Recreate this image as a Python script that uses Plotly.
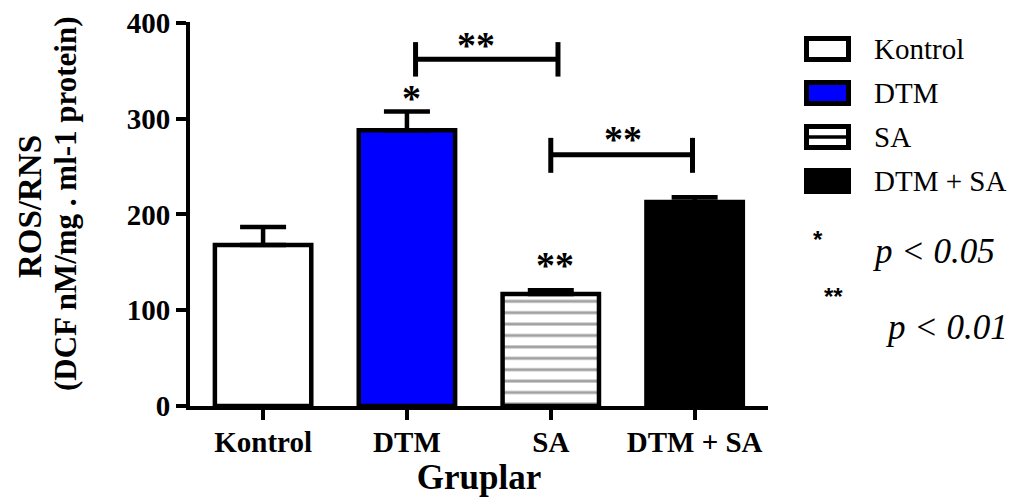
import plotly.graph_objects as go

# ---------------- data ----------------
groups = ["Kontrol", "DTM", "SA", "DTM + SA"]
means = [168, 288, 117, 213]
sem = [19, 19.5, 4, 5]
fill_colors = ["white", "#0000FF", "white", "black"]
patterns = ["", "", "-", ""]
y_ticks = [0, 100, 200, 300, 400]

# significance brackets (category-index positions / data values)
bracket_x0 = [1.06, 2.0]
bracket_x1 = [2.05, 2.985]
bracket_y = [362, 262.5]
bracket_lo = [344, 243.5]
bracket_hi = [380, 280]
bracket_text = ["**", "**"]
bracket_text_x = [1.48, 2.50]
bracket_text_y = [381.5, 283]

# asterisks above bars
star_x = [1.03, 2.03]
star_y = [326, 151]
star_text = ["*", "**"]

# legend notes
note_stars = ["*", "**"]
note_texts = ["p < 0.05", "p < 0.01"]

# ---------------- layout geometry ----------------
OFF = 8                      # page body margin of the html page
W, H = 1016 - OFF, 502 - OFF
L, T = 190 - OFF, 22 - OFF
PR, PB = 768 - OFF, 406 - OFF   # plot right / bottom in figure px
R, B = W - PR, H - PB
PW, PH = PR - L, PB - T


def pxx(p):
    """page pixel x -> paper x"""
    return (p - OFF - L) / PW


def pxy(p):
    """page pixel y -> paper y"""
    return (PB - (p - OFF)) / PH


SERIF = "Liberation Serif"

fig = go.Figure()
fig.add_trace(go.Bar(
    x=groups, y=means,
    marker=dict(
        color=fill_colors,
        line=dict(color="black", width=4.5),
        pattern=dict(shape=patterns, fgcolor="black", bgcolor="white",
                     size=11.4, solidity=0.26),
    ),
    error_y=dict(type="data", array=sem, arrayminus=[0] * len(sem),
                 symmetric=False, color="black", thickness=4.5, width=23),
    showlegend=False,
))

shapes = []
annotations = []

# significance brackets
for x0, x1, y, lo, hi in zip(bracket_x0, bracket_x1, bracket_y, bracket_lo, bracket_hi):
    shapes.append(dict(type="line", xref="x", yref="y", x0=x0, x1=x1, y0=y, y1=y,
                       line=dict(color="black", width=5)))
    for xe in (x0, x1):
        shapes.append(dict(type="line", xref="x", yref="y", x0=xe, x1=xe, y0=lo, y1=hi,
                           line=dict(color="black", width=5)))
for t, x, y in zip(bracket_text, bracket_text_x, bracket_text_y):
    annotations.append(dict(text=t, x=x, y=y, xref="x", yref="y", showarrow=False,
                            xanchor="center", yanchor="middle", yshift=-4,
                            font=dict(family=SERIF, size=38, color="black", weight="bold")))
for t, x, y in zip(star_text, star_x, star_y):
    annotations.append(dict(text=t, x=x, y=y, xref="x", yref="y", showarrow=False,
                            xanchor="center", yanchor="middle", yshift=-4,
                            font=dict(family=SERIF, size=38, color="black", weight="bold")))

# y-axis title (two lines)
annotations.append(dict(text="<b>ROS/RNS</b>", x=pxx(30), y=pxy(207), xref="paper", yref="paper",
                        showarrow=False, textangle=-90, xanchor="center", yanchor="middle",
                        borderpad=0, font=dict(family=SERIF, size=33, color="black")))
annotations.append(dict(text="<b>(DCF nM/mg . ml-1 protein)</b>", x=pxx(65), y=pxy(204),
                        xref="paper", yref="paper",
                        showarrow=False, textangle=-90, xanchor="center", yanchor="middle",
                        font=dict(family=SERIF, size=31, color="black")))

# custom legend (boxes + labels)
leg_top = [36, 80, 124, 168]
box_h = 26
bx0, bx1 = 804, 851
lw = 5
for i, name in enumerate(groups):
    top = leg_top[i]
    shapes.append(dict(type="rect", xref="paper", yref="paper",
                       x0=pxx(bx0 + lw / 2), x1=pxx(bx1 - lw / 2),
                       y0=pxy(top + lw / 2), y1=pxy(top + box_h - lw / 2),
                       fillcolor=fill_colors[i], line=dict(color="black", width=lw)))
    if patterns[i] == "-":
        mid = top + box_h / 2
        shapes.append(dict(type="line", xref="paper", yref="paper",
                           x0=pxx(bx0), x1=pxx(bx1), y0=pxy(mid), y1=pxy(mid),
                           line=dict(color="black", width=3.5)))
    annotations.append(dict(text=name, x=pxx(872), y=pxy(top + box_h / 2),
                            xref="paper", yref="paper", showarrow=False,
                            xanchor="left", yanchor="middle",
                            font=dict(family=SERIF, size=29, color="black")))

# p-value notes
note_star_x = [818, 833]
note_star_y = [239, 296]
note_text_x = [870, 883]
note_text_y = [252, 327]
for s, t, sx, sy, tx, ty in zip(note_stars, note_texts, note_star_x, note_star_y,
                                note_text_x, note_text_y):
    annotations.append(dict(text=s, x=pxx(sx), y=pxy(sy), xref="paper", yref="paper",
                            showarrow=False, xanchor="center", yanchor="middle",
                            font=dict(family="Liberation Sans", size=24, color="black",
                                      weight="bold")))
    annotations.append(dict(text="<i>" + t + "</i>", x=pxx(tx), y=pxy(ty),
                            xref="paper", yref="paper", showarrow=False,
                            xanchor="left", yanchor="middle",
                            font=dict(family=SERIF, size=35, color="black")))

fig.update_layout(
    width=W, height=H,
    margin=dict(l=L, r=R, t=T, b=B, autoexpand=False),
    plot_bgcolor="white", paper_bgcolor="white",
    bargap=0.33,
    shapes=shapes, annotations=annotations,
    xaxis=dict(
        range=[-0.508, 3.51], showline=True, linecolor="black", linewidth=4,
        ticks="outside", ticklen=10, tickwidth=3.5, tickcolor="black",
        showgrid=False, zeroline=False, ticklabelstandoff=-3,
        tickfont=dict(family=SERIF, size=29, color="black", weight="bold"),
        title=dict(text="Gruplar", standoff=6,
                   font=dict(family=SERIF, size=35, color="black", weight="bold")),
    ),
    yaxis=dict(
        range=[0, 401], tickvals=y_ticks, showline=True, linecolor="black", linewidth=4,
        ticks="outside", ticklen=10, tickwidth=3.5, tickcolor="black",
        showgrid=False, zeroline=False, ticklabeloverflow="allow",
        tickfont=dict(family=SERIF, size=29, color="black", weight="bold"),
    ),
)

fig.write_html("out.html")
